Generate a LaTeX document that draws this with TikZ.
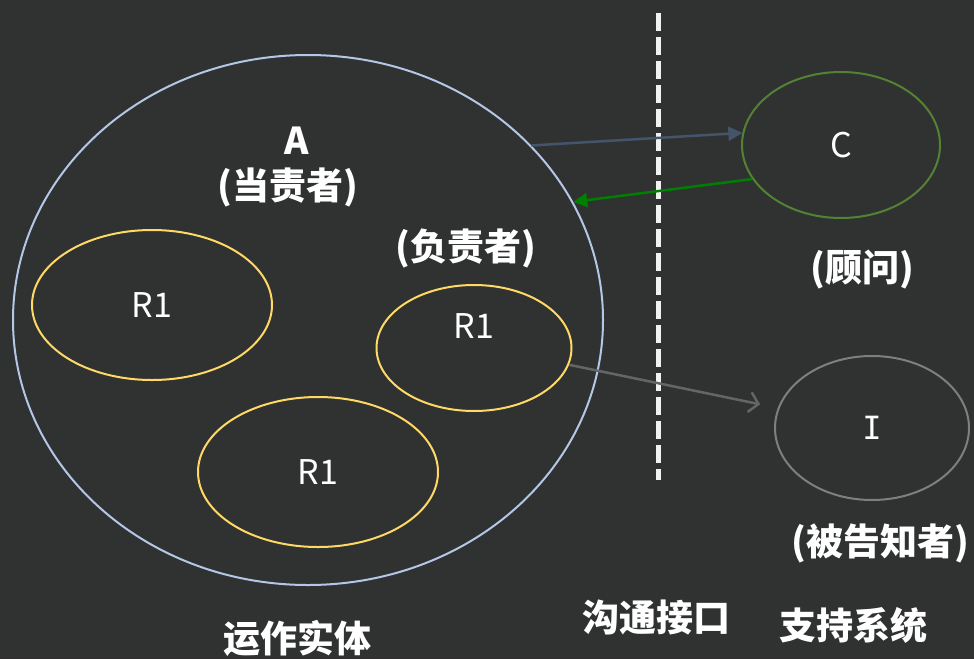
\documentclass[tikz,border=0pt]{standalone}
\usepackage{fontspec}
\setmainfont{Noto Sans CJK SC}
\newfontfamily\serifI{DejaVu Sans Mono}
\usetikzlibrary{arrows.meta,shapes.geometric}

\definecolor{bgdark}{HTML}{303232}
\definecolor{entityblue}{HTML}{B4C7E7}
\definecolor{roleyellow}{HTML}{FFD966}
\definecolor{consultgreen}{HTML}{548235}
\definecolor{informgray}{HTML}{7F7F7F}
\definecolor{linkslate}{HTML}{44546A}
\definecolor{backgreen}{HTML}{008000}

\tikzset{
  role/.style={ellipse, draw=roleyellow, line width=2pt, inner sep=0pt, text=white, font=\fontsize{34}{36}\selectfont},
  title/.style={text=white, font=\bfseries\fontsize{37}{40}\selectfont},
}

\begin{document}
\begin{tikzpicture}[x=1pt, y=-1pt]
\useasboundingbox (0,0) rectangle (974,659);
\fill[bgdark] (0,0) rectangle (974,659);

% operating entity
\node[ellipse, draw=entityblue, line width=2pt, minimum width=590pt, minimum height=530pt] (a) at (308,320) {};
\node[title] (aname) at (297,141) {A};
\node[title] (arole) at (288,187) {(当责者)};
\node[role, minimum width=240pt, minimum height=150pt] (r1) at (152,305) {R1};
\node[role, minimum width=195pt, minimum height=126pt] (r2) at (474,348) {};
\node[text=white, font=\fontsize{34}{36}\selectfont] (r2name) at (474,326) {R1};
\node[title] (r2role) at (466,248) {(负责者)};
\node[role, minimum width=240pt, minimum height=150pt] (r3) at (318,472) {R1};

% interface
\coordinate (top) at (658,13);
\coordinate (bot) at (658,480);
\draw[white!95!black, line width=5pt, dash pattern=on 18pt off 6pt] (top) -- (bot);

% support system
\node[ellipse, draw=consultgreen, line width=2pt, minimum width=198pt, minimum height=146pt, text=white, font=\fontsize{34}{36}\selectfont] (c) at (841,145) {C};
\node[title] (crole) at (862,270) {(顾问)};
\node[ellipse, draw=informgray, line width=2pt, minimum width=194pt, minimum height=144pt, text=white, font=\serifI\fontsize{32}{36}\selectfont] (i) at (872,428) {I};
\node[title] (irole) at (880,543) {(被告知者)};

% arrows
\draw[linkslate, line width=2.5pt, -{Triangle[length=14pt,width=14pt]}] (a.38) -- (c.173);
\draw[backgreen, line width=2.5pt, -{Triangle[length=14pt,width=14pt]}] (c.201) -- (a.24.5);
\draw[informgray!80!black, line width=2.5pt, -{Straight Barb[length=9pt,width=20pt]}, shorten >=18pt] (r2.-10) -- (i.168);

% labels
\node[title] (entity) at (297,638) {运作实体};
\node[title] (iface) at (656,617) {沟通接口};
\node[title] (support) at (853,625) {支持系统};
\end{tikzpicture}
\end{document}
